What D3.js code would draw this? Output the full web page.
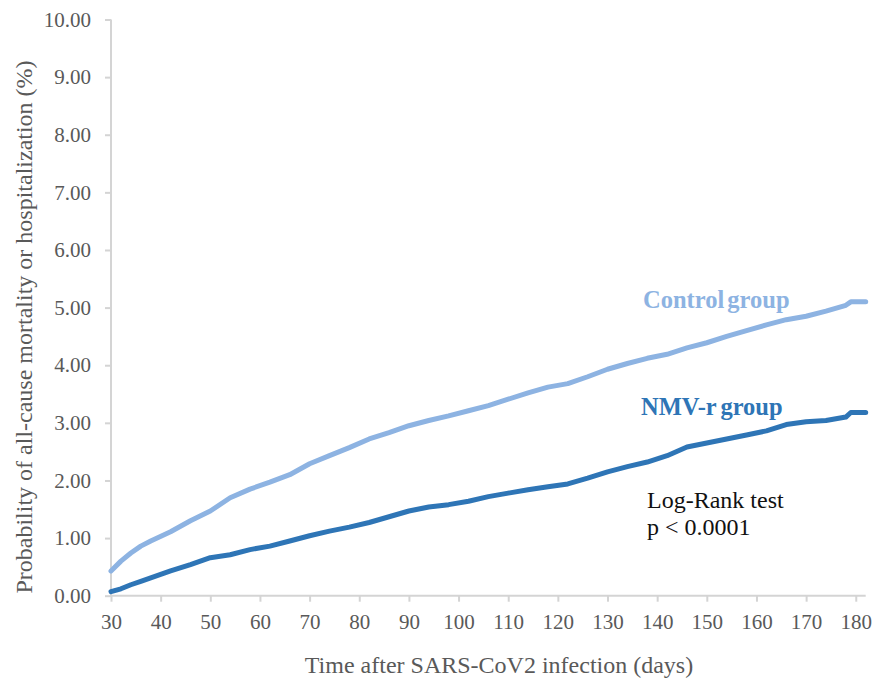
<!DOCTYPE html>
<html>
<head>
<meta charset="utf-8">
<script src="https://cdn.jsdelivr.net/npm/d3@7"></script>
<style>
  html, body { margin: 0; padding: 0; background: #fff; }
  svg { display: block; }
  text { font-family: "Liberation Serif", "Times New Roman", serif; }
</style>
</head>
<body>
<svg id="chart" width="877" height="682"></svg>
<script>
// ---- data ----
const days = [30,32,34,36,38,42,46,50,54,58,62,66,70,74,78,82,86,90,94,98,102,106,110,114,118,122,126,130,134,138,142,146,150,154,158,162,166,170,174,178,179,182];
const controlGroup = [0.43,0.60,0.74,0.86,0.95,1.11,1.30,1.47,1.70,1.85,1.97,2.10,2.29,2.43,2.57,2.72,2.83,2.95,3.04,3.12,3.21,3.30,3.41,3.52,3.62,3.68,3.80,3.93,4.03,4.12,4.19,4.30,4.39,4.50,4.60,4.70,4.79,4.85,4.94,5.04,5.10,5.10];
const nmvrGroup = [0.07,0.12,0.19,0.25,0.31,0.43,0.54,0.66,0.71,0.80,0.86,0.95,1.04,1.12,1.19,1.27,1.37,1.47,1.54,1.58,1.64,1.72,1.78,1.84,1.89,1.94,2.04,2.15,2.24,2.32,2.43,2.58,2.65,2.72,2.79,2.86,2.97,3.02,3.04,3.10,3.18,3.18];
const xTicks = [30,40,50,60,70,80,90,100,110,120,130,140,150,160,170,180];
const yTicks = [0,1,2,3,4,5,6,7,8,9,10];
const seriesNames = ["Control group", "NMV-r group"];
const xTitle = "Time after SARS-CoV2 infection (days)";
const yTitle = "Probability of all-cause mortality or hospitalization (%)";
const testLines = ["Log-Rank test", "p < 0.0001"];

// ---- layout ----
const svg = d3.select("#chart");
const x = d3.scaleLinear().domain([30, 182]).range([111, 865.7]);
const y = d3.scaleLinear().domain([0, 10]).range([595.7, 19.5]);

const axisColor = "#d4d4d4";
const labelColor = "#595959";

// y axis
const yAxis = svg.append("g").attr("transform", `translate(${x(30)},0)`)
  .call(d3.axisLeft(y).tickValues(yTicks).tickSize(6).tickPadding(14).tickFormat(d3.format(".2f")));
yAxis.select(".domain").attr("stroke", axisColor).attr("stroke-width", 2)
  .attr("d", `M0,${y(10)}V${y(0)}`);
yAxis.selectAll(".tick line").attr("stroke", axisColor).attr("stroke-width", 2);
yAxis.selectAll(".tick text").attr("fill", labelColor).attr("font-size", 21)
  .attr("font-family", "Liberation Serif");

// x axis
const xAxis = svg.append("g").attr("transform", `translate(0,${y(0)})`)
  .call(d3.axisBottom(x).tickValues(xTicks).tickSize(6).tickPadding(12).tickFormat(d3.format("d")));
xAxis.select(".domain").attr("stroke", axisColor).attr("stroke-width", 2)
  .attr("d", `M${x(30)},0H${x(182)}`);
xAxis.selectAll(".tick line").attr("stroke", axisColor).attr("stroke-width", 2);
xAxis.selectAll(".tick text").attr("fill", labelColor).attr("font-size", 21)
  .attr("font-family", "Liberation Serif");

// lines
const line = d3.line().x(d => x(d[0])).y(d => y(d[1])).curve(d3.curveLinear);
const ctrl = days.map((d, i) => [d, controlGroup[i]]);
const nmv = days.map((d, i) => [d, nmvrGroup[i]]);

svg.append("path").datum(ctrl).attr("d", line)
  .attr("fill", "none").attr("stroke", "#8db3e2").attr("stroke-width", 5)
  .attr("stroke-linejoin", "round").attr("stroke-linecap", "round");
svg.append("path").datum(nmv).attr("d", line)
  .attr("fill", "none").attr("stroke", "#2e75b6").attr("stroke-width", 5)
  .attr("stroke-linejoin", "round").attr("stroke-linecap", "round");

// series labels
svg.append("text").attr("x", 643).attr("y", 308).attr("font-size", 24.5)
  .attr("font-weight", "bold").attr("fill", "#8db3e2").attr("word-spacing", -3).text(seriesNames[0]);
svg.append("text").attr("x", 641).attr("y", 415).attr("font-size", 24.5)
  .attr("font-weight", "bold").attr("fill", "#2e75b6").attr("word-spacing", -2).text(seriesNames[1]);

// test annotation
svg.append("text").attr("x", 647).attr("y", 508).attr("font-size", 24)
  .attr("fill", "#111").text(testLines[0]);
svg.append("text").attr("x", 647).attr("y", 535).attr("font-size", 24)
  .attr("fill", "#111").text(testLines[1]);

// axis titles
svg.append("text").attr("x", 499).attr("y", 673).attr("text-anchor", "middle")
  .attr("font-size", 24).attr("fill", labelColor).text(xTitle);
svg.append("text").attr("transform", `translate(32,327) rotate(-90)`)
  .attr("text-anchor", "middle").attr("font-size", 24).attr("fill", labelColor).text(yTitle);
</script>
</body>
</html>
